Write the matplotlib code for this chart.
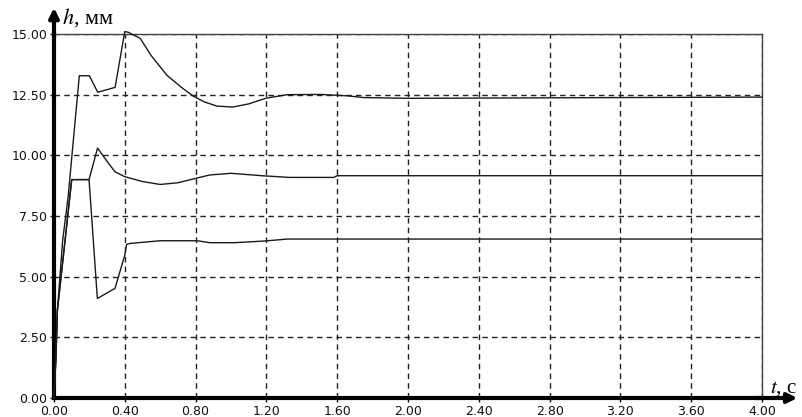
import matplotlib

matplotlib.use("Agg")
import matplotlib.pyplot as plt

# upper curve
t_top = [0, 0.012, 0.019, 0.049, 0.08, 0.143, 0.20, 0.247, 0.345, 0.40, 0.42, 0.487,
         0.55, 0.638, 0.72, 0.787, 0.85, 0.92, 1.01, 1.10, 1.20, 1.32, 1.505, 1.66,
         1.75, 2.0, 4.0]
h_top = [0, 1.8, 3.6, 6.5, 8.3, 13.28, 13.28, 12.6, 12.8, 15.1, 15.07, 14.82,
         14.1, 13.3, 12.8, 12.44, 12.2, 12.03, 11.99, 12.12, 12.36, 12.5, 12.51, 12.45,
         12.38, 12.35, 12.4]

# middle curve
t_mid = [0, 0.01, 0.019, 0.10, 0.198, 0.246, 0.30, 0.345, 0.40, 0.50, 0.60, 0.70,
         0.80, 0.88, 1.0, 1.07, 1.175, 1.33, 1.58, 1.60, 4.0]
h_mid = [0, 1.6, 3.6, 9.0, 9.0, 10.3, 9.75, 9.32, 9.12, 8.92, 8.8, 8.87,
         9.05, 9.19, 9.26, 9.22, 9.16, 9.09, 9.09, 9.16, 9.16]

# lower curve
t_low = [0, 0.01, 0.019, 0.10, 0.198, 0.245, 0.345, 0.40, 0.41, 0.43, 0.60, 0.81,
         0.88, 1.02, 1.19, 1.32, 4.0]
h_low = [0, 1.6, 3.6, 9.0, 9.0, 4.1, 4.52, 5.89, 6.33, 6.37, 6.48, 6.48,
         6.4, 6.4, 6.47, 6.55, 6.55]

x_ticks = [0.0, 0.4, 0.8, 1.2, 1.6, 2.0, 2.4, 2.8, 3.2, 3.6, 4.0]
y_ticks = [0.0, 2.5, 5.0, 7.5, 10.0, 12.5, 15.0]

plt.rcParams["font.family"] = ["DejaVu Sans"]
plt.rcParams["mathtext.fontset"] = "stix"

fig = plt.figure(figsize=(8.02, 4.17), dpi=100)
ax = fig.add_axes([54 / 802, 1 - 398 / 417, 708 / 802, 364 / 417])

for t, h in [(t_top, h_top), (t_mid, h_mid), (t_low, h_low)]:
    ax.plot(t, h, color="#1a1a1a", lw=1.0, zorder=3, clip_on=False)

ax.set_xlim(0, 4.0)
ax.set_ylim(0, 15.0)
ax.set_xticks(x_ticks)
ax.set_yticks(y_ticks)
ax.set_xticklabels([f"{v:.2f}" for v in x_ticks])
ax.set_yticklabels([f"{v:.2f}" for v in y_ticks])
ax.tick_params(length=3, width=1, pad=2, labelsize=9, colors="#111")
ax.grid(True, color="#222", lw=1.0, linestyle=(0, (4, 3)))

for side in ("left", "bottom"):
    ax.spines[side].set_linewidth(3)
    ax.spines[side].set_color("black")
for side in ("top", "right"):
    ax.spines[side].set_linewidth(1)
    ax.spines[side].set_color("#444")

# axis arrows
ax.annotate("", xy=(0, 1.072), xytext=(0, 0.99), xycoords="axes fraction",
            arrowprops=dict(arrowstyle="-|>", lw=3, color="black",
                            mutation_scale=14, shrinkA=0, shrinkB=0),
            annotation_clip=False)
ax.annotate("", xy=(1.05, 0), xytext=(0.99, 0), xycoords="axes fraction",
            arrowprops=dict(arrowstyle="-|>", lw=3, color="black",
                            mutation_scale=14, shrinkA=0, shrinkB=0),
            annotation_clip=False)

ax.text(0.011, 1.03, r"$h$, мм", transform=ax.transAxes, fontsize=16,
        family=["Liberation Serif", "DejaVu Serif"], va="baseline", ha="left")
ax.text(1.011, 0.016, r"$t$, с", transform=ax.transAxes, fontsize=15,
        family=["Liberation Serif", "DejaVu Serif"], va="baseline", ha="left")

fig.savefig("out.png", dpi=100)
